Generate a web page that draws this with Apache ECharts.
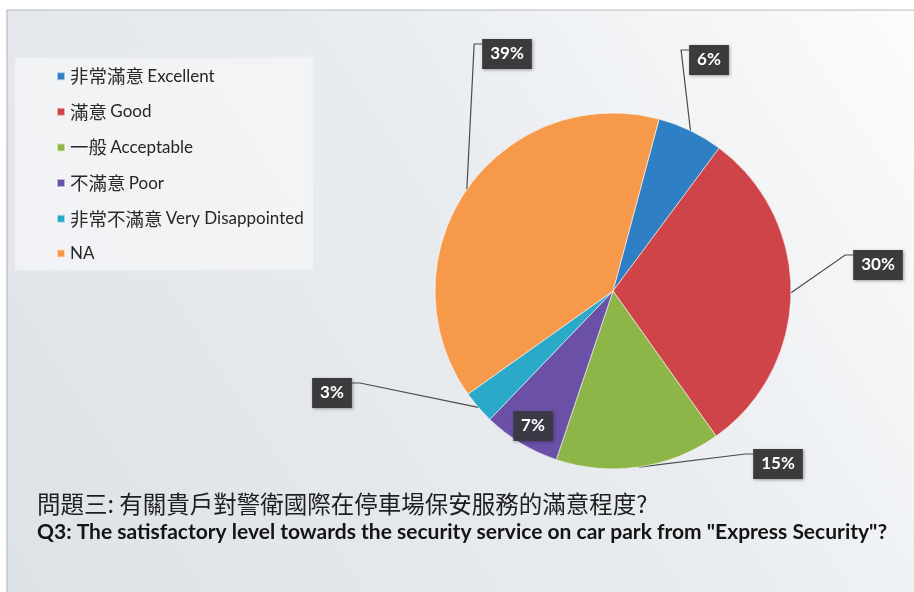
<!DOCTYPE html>
<html>
<head>
<meta charset="utf-8">
<script src="https://cdn.jsdelivr.net/npm/echarts@6/dist/echarts.min.js"></script>
<style>
  html, body { margin: 0; padding: 0; background: #fff; }
  #chart { width: 914px; height: 592px; }
</style>
</head>
<body>
<div id="chart"></div>
<script>
// survey answers, share of respondents in percent
const categories = [
  '非常滿意 Excellent',
  '滿意 Good',
  '一般 Acceptable',
  '不滿意 Poor',
  '非常不滿意 Very Disappointed',
  'NA'
];
const values = [6, 30, 15, 7, 3, 39];
const sliceColors = ['#2f7fc4', '#cf4449', '#8db548', '#6a50a6', '#2aa9c9', '#f7994a'];

const titleCn = '問題三: 有關貴戶對警衛國際在停車場保安服務的滿意程度?';
const titleEn = 'Q3: The satisfactory level towards the security service on car park from "Express Security"?';

// pie geometry and where each value box sits, relative to pie centre
const cx = 613, cy = 291, R = 178;
const startCompass = 15;   // first slice starts 15deg clockwise of 12 o'clock
const labelOffsets = [[96, -231], [265, -26], [165, 173], [-80, 135], [-281, 102], [-106, -237]];

var total = values.reduce((a, b) => a + b, 0);

// mid angle (compass degrees) of each slice
function midAngle(i)
{
   var before = 0;
   for (let k = 0; k < i; k++) before += values[k];
   return startCompass + (before + values[i] / 2) / total * 360;
}

var chart = echarts.init(document.getElementById('chart'), null, { renderer: 'canvas' });

var data = values.map((v, i) =>
{
   var item = { name: categories[i], value: v };
   if (i === 3)
   {
      item.labelLine = { show: false };
      item.label = { backgroundColor: 'rgba(58,56,62,0.85)' };
   }
   return item;
});

var option =
{
   backgroundColor: '#ffffff',
   color: sliceColors,
   graphic:
   [
      {
         type: 'rect', z: -10, silent: true,
         shape: { x: 7, y: 10, width: 920, height: 600 },
         style:
         {
            fill: new echarts.graphic.LinearGradient(0, 1, 1, 0,
            [
               { offset: 0, color: '#dde2e7' },
               { offset: 0.55, color: '#e9ecef' },
               { offset: 1, color: '#fbfcfd' }
            ]),
            stroke: '#b9bcc0', lineWidth: 1.2
         }
      },
      {
         type: 'rect', z: -9, silent: true,
         shape: { x: 15, y: 58, width: 298, height: 212 },
         style: { fill: 'rgba(246,247,249,0.6)', shadowBlur: 8, shadowColor: 'rgba(246,247,249,0.6)' }
      }
   ],
   title:
   {
      text: titleCn,
      subtext: titleEn,
      left: 32,
      top: 487,
      itemGap: 6,
      textStyle: { fontFamily: '"Noto Sans CJK TC"', fontSize: 23.5, fontWeight: 'normal', color: '#1e1e1e' },
      subtextStyle: { fontFamily: 'Lato', fontSize: 21, fontWeight: 'bold', color: '#141414' }
   },
   legend:
   {
      orient: 'vertical',
      left: 51,
      top: 62,
      icon: 'rect',
      itemWidth: 8,
      itemHeight: 8,
      itemGap: 17.1,
      selectedMode: false,
      formatter: name =>
      {
         var p = name.indexOf(' ');
         if (p < 0) return '{en|' + name + '}';
         return '{cn|' + name.slice(0, p) + '} {en|' + name.slice(p + 1) + '}';
      },
      textStyle:
      {
         color: '#262626',
         padding: [0, 0, 0, 0],
         rich:
         {
            cn: { fontFamily: '"Noto Sans CJK TC"', fontSize: 18.5, lineHeight: 20, color: '#2a2a2a' },
            en: { fontFamily: 'Lato', fontSize: 17, lineHeight: 20, color: '#262626' }
         }
      }
   },
   series:
   [
      {
         type: 'pie',
         center: [cx, cy],
         radius: R,
         startAngle: 90 - startCompass,
         clockwise: true,
         avoidLabelOverlap: false,
         animation: false,
         data: data,
         itemStyle: { borderColor: 'rgba(255,255,255,0.55)', borderWidth: 1 },
         label:
         {
            position: 'outside',
            formatter: '{d}%',
            fontFamily: 'Lato',
            fontWeight: 'bold',
            fontSize: 17,
            lineHeight: 20,
            color: '#ffffff',
            backgroundColor: '#3b3a3d',
            padding: [5, 8, 5, 8],
            shadowColor: 'rgba(0,0,0,0.35)',
            shadowBlur: 3,
            shadowOffsetX: 1,
            shadowOffsetY: 1
         },
         labelLine: { show: true, lineStyle: { color: '#4a4a4a', width: 1.2 } },
         labelLayout: params =>
         {
            var i = params.dataIndex;
            var lx = cx + labelOffsets[i][0];
            var ly = cy + labelOffsets[i][1];
            var w = params.labelRect.width, h = params.labelRect.height;
            var a = midAngle(i) * Math.PI / 180;
            var ex = cx + R * Math.sin(a), ey = cy - R * Math.cos(a);
            var top = ly - h / 2 + 5;
            var side = ex < lx ? lx - w / 2 : lx + w / 2;
            var bend = ex < lx ? side - 8 : side + 8;
            var out = { x: lx, y: ly, align: 'center', verticalAlign: 'middle' };
            if (i !== 3) out.labelLinePoints = [[ex, ey], [bend, top], [side, top]];
            return out;
         }
      }
   ]
};

chart.setOption(option);
</script>
</body>
</html>
